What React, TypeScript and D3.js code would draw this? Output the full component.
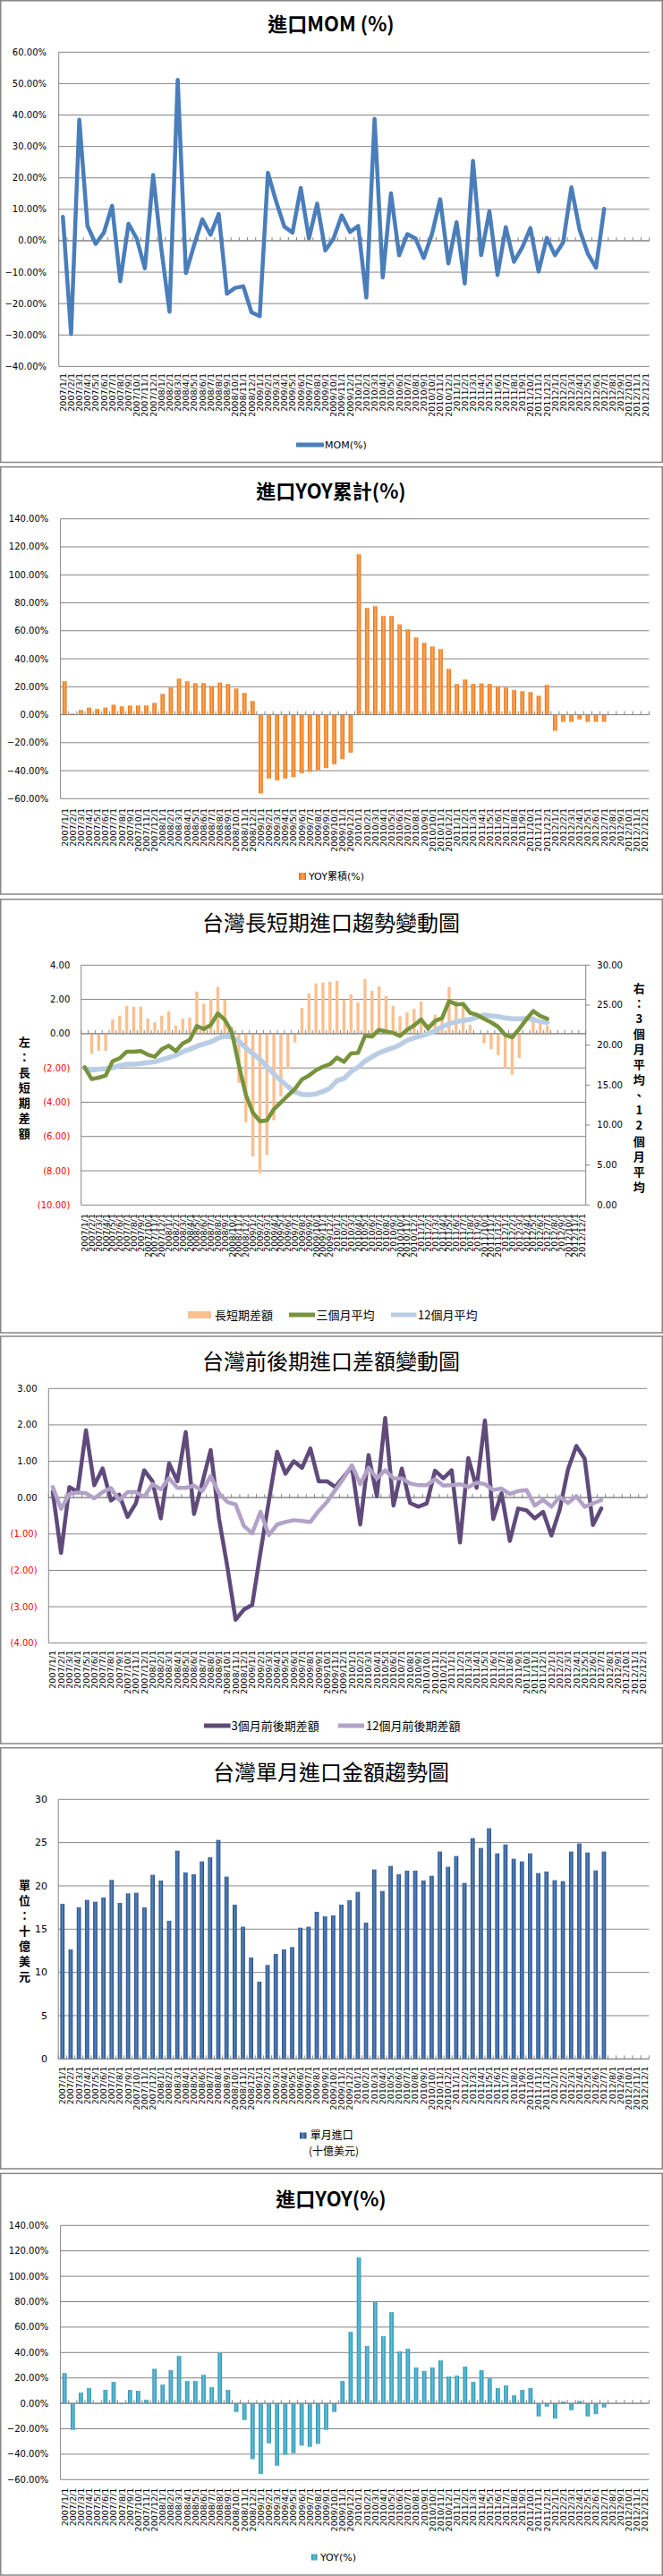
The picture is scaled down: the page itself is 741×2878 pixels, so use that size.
import React from "react";
import * as d3 from "d3";

const W = 741;
const H = 2878;

const years = ["2007", "2008", "2009", "2010", "2011", "2012"];
const monthNums = ["1", "2", "3", "4", "5", "6", "7", "8", "9", "10", "11", "12"];
const categories: string[] = years.flatMap((y) => monthNums.map((m) => `${y}/${m}/1`));

// 進口MOM (%)
const momPct = [
  7.6, -29.7, 38.5, 4.7, -1.0, 2.6, 11.1, -12.9, 5.4, 0.7,
  -8.8, 20.9, -2.5, -22.6, 51.2, -10.3, -1.4, 6.8, 1.9, 8.5,
  -16.9, -15.0, -14.5, -22.8, -24.0, 21.6, 12.5, 4.5, 2.6, 16.8,
  0.7, 11.8, -3.1, 0.7, 8.1, 2.8, 4.7, -18.1, 38.8, -11.7,
  15.1, -4.6, 2.1, 0.7, -5.5, 2.1, 13.2, -7.2, 5.9, -13.6,
  25.4, -4.6, 9.4, -10.9, 4.3, -6.7, -2.2, 4.0, -9.8, 0.9,
  -4.6, -0.5, 17.0, 3.5, -4.1, -8.6, 10.2,
];

// 進口YOY累計(%)
const yoyCumPct = [
  23.9, 0.9, 3.4, 5.1, 4.1, 5.1, 7.2, 6.0, 6.6, 6.6,
  6.6, 8.5, 14.9, 19.4, 25.8, 23.9, 22.6, 22.6, 20.5, 23.0,
  22.0, 18.8, 15.6, 9.8, -56.3, -45.6, -46.9, -45.6, -44.6, -41.8,
  -40.9, -39.7, -38.2, -35.4, -31.8, -27.1, 114.7, 76.3, 77.6, 70.6,
  70.6, 64.6, 61.0, 55.2, 51.4, 48.8, 46.9, 32.8, 22.0, 25.2,
  22.0, 22.4, 22.0, 20.3, 19.4, 17.7, 16.8, 16.2, 13.6, 21.3,
  -11.5, -5.1, -5.1, -3.4, -5.1, -5.1, -5.1,
];

// 長短期差額 (left axis)
const longShortDiff = [
  0.05, -1.17, -1.0, -1.0, 0.84, 1.05, 1.62, 1.57, 1.57, 0.89,
  0.66, 1.05, 1.31, 0.47, 0.87, 0.94, 2.46, 1.75, 2.04, 2.73,
  1.97, 0.4, -2.87, -5.17, -7.17, -8.15, -7.08, -5.05, -3.66, -2.05,
  -0.52, 1.51, 2.35, 2.93, 2.97, 3.04, 3.09, 1.97, 2.29, 1.82,
  3.19, 2.5, 2.76, 2.2, 1.62, 1.01, 1.24, 1.45, 1.88, 0.58,
  1.1, 0.84, 2.72, 1.92, 1.8, 0.52, 0.05, -0.56, -0.91, -1.26,
  -2.04, -2.39, -1.43, -0.07, 1.01, 0.58, 0.49,
];

// 三個月平均 (right axis)
const avg3 = [
  17.24, 15.75, 15.93, 16.2, 17.99, 18.36, 19.18, 19.18, 19.25, 18.8,
  18.54, 19.47, 19.92, 19.25, 20.22, 20.66, 22.38, 22.0, 22.53, 23.96,
  23.17, 21.6, 17.5, 13.77, 11.53, 10.48, 10.59, 11.98, 12.83, 13.69,
  14.51, 15.71, 16.19, 16.85, 17.3, 17.61, 18.43, 17.91, 18.96, 19.03,
  21.15, 21.08, 21.9, 21.71, 21.53, 21.15, 21.9, 22.46, 23.2, 22.08,
  23.02, 23.39, 25.52, 25.07, 25.15, 24.03, 23.77, 23.28, 22.84, 22.28,
  21.27, 20.97, 22.02, 23.2, 24.25, 23.65, 23.31,
];

// 12個月平均 (right axis)
const avg12 = [
  17.13, 16.87, 16.98, 17.06, 17.17, 17.43, 17.62, 17.62, 17.69, 17.8,
  17.91, 18.17, 18.43, 18.73, 19.18, 19.47, 19.85, 20.15, 20.41, 20.86,
  21.11, 21.0, 20.48, 19.66, 18.92, 18.25, 17.31, 16.38, 15.56, 14.81,
  14.14, 13.84, 13.77, 13.9, 14.2, 14.62, 15.56, 15.82, 16.68, 17.24,
  17.98, 18.54, 19.03, 19.36, 19.66, 20.04, 20.6, 20.9, 21.16, 21.42,
  21.79, 22.28, 22.65, 22.91, 23.1, 23.2, 23.5, 23.77, 23.65, 23.58,
  23.39, 23.28, 23.28, 23.32, 23.2, 22.95, 22.84,
];

// 3個月前後期差額
const chg3 = [
  0.16, -1.52, 0.29, 0.16, 1.85, 0.34, 0.8, -0.08, 0.08, -0.53,
  -0.16, 0.75, 0.45, -0.57, 0.94, 0.45, 1.8, -0.45, 0.41, 1.31,
  -0.57, -1.89, -3.36, -3.08, -2.95, -1.5, -0.1, 1.26, 0.66, 1.0,
  0.82, 1.35, 0.45, 0.45, 0.29, 0.57, 0.84, -0.74, 1.17, 0.04,
  2.19, -0.22, 0.8, -0.15, -0.25, -0.16, 0.74, 0.53, 0.75, -1.23,
  1.09, 0.27, 2.12, -0.59, 0.12, -1.19, -0.3, -0.35, -0.57, -0.39,
  -1.04, -0.33, 0.78, 1.42, 1.07, -0.75, -0.3,
];

// 12個月前後期差額
const chg12 = [
  0.29, -0.31, 0.1, 0.14, 0.12, -0.02, 0.15, 0.26, -0.07, 0.15,
  0.15, 0.02, 0.37, 0.23, 0.53, 0.27, 0.27, 0.33, 0.18, 0.59,
  0.12, -0.12, -0.19, -0.78, -0.98, -0.39, -1.03, -0.74, -0.67, -0.62,
  -0.64, -0.67, -0.37, -0.12, 0.21, 0.53, 0.89, 0.37, 0.82, 0.53,
  0.75, 0.53, 0.53, 0.39, 0.34, 0.34, 0.51, 0.33, 0.34, 0.37,
  0.29, 0.41, 0.37, 0.21, 0.25, 0.1, 0.18, 0.21, -0.22, -0.06,
  -0.25, 0.02, -0.15, 0.04, -0.25, -0.16, -0.07,
];

// 單月進口 (十億美元)
const monthlyImports = [
  17.93, 12.66, 17.52, 18.38, 18.17, 18.66, 20.69, 18.03, 19.14, 19.21,
  17.52, 21.28, 20.62, 15.97, 24.07, 21.55, 21.34, 22.83, 23.31, 25.31,
  21.07, 17.83, 15.28, 11.72, 8.93, 10.86, 12.14, 12.66, 12.93, 15.17,
  15.28, 17.0, 16.48, 16.59, 17.83, 18.34, 19.31, 15.76, 21.9, 19.41,
  22.31, 21.34, 21.76, 21.76, 20.62, 21.17, 23.97, 22.21, 23.45, 20.34,
  25.52, 24.38, 26.66, 23.76, 24.79, 23.14, 22.83, 23.76, 21.48, 21.66,
  20.66, 20.55, 23.97, 24.9, 23.86, 21.79, 23.97,
];

// 進口YOY(%)
const yoyPct = [
  23.9, -20.9, 8.5, 12.0, -0.7, 10.6, 16.9, -0.7, 10.6, 9.9,
  2.8, 27.2, 14.8, 26.1, 37.3, 17.6, 17.6, 22.5, 12.7, 39.7,
  10.6, -6.8, -13.1, -43.9, -55.6, -31.5, -49.1, -40.4, -39.2, -33.3,
  -34.3, -31.9, -20.9, -6.8, 17.6, 56.3, 114.8, 45.1, 79.6, 52.8,
  71.8, 40.8, 43.0, 28.2, 25.4, 28.2, 33.8, 21.1, 21.8, 28.9,
  16.9, 26.1, 19.7, 12.0, 14.1, 6.3, 10.6, 12.0, -10.3, -2.6,
  -12.0, 1.4, -5.4, 1.9, -10.3, -8.5, -3.3,
];

const pctTicks = [-60, -40, -20, 0, 20, 40, 60, 80, 100, 120, 140];
const momTicks = [-40, -30, -20, -10, 0, 10, 20, 30, 40, 50, 60];
const leftDiffTicks = [-10, -8, -6, -4, -2, 0, 2, 4];
const rightAvgTicks = [0, 5, 10, 15, 20, 25, 30];
const chgTicks = [-4, -3, -2, -1, 0, 1, 2, 3];
const importTicks = [0, 5, 10, 15, 20, 25, 30];

const AX = "'DejaVu Sans', Verdana, sans-serif";
const CJK = "'Noto Sans CJK TC', 'Noto Sans CJK SC', sans-serif";
const MIX = "'DejaVu Sans', 'Noto Sans CJK TC', sans-serif";
const GRID = "#868686";

const f2 = d3.format(".2f");
const pct = (v: number) => f2(v) + "%";
const paren = (v: number) => (v < 0 ? `(${f2(-v)})` : f2(v));

function band(x0: number, x1: number) {
  return d3.scaleBand<string>().domain(categories).range([x0, x1]).paddingInner(0).paddingOuter(0);
}

function Frame({ top, bottom }: { top: number; bottom: number }) {
  return <rect x={0.75} y={top} width={739.5} height={bottom - top} fill="#fff" stroke={GRID} strokeWidth={1.5} />;
}

function Title({ y, text, bold, size }: { y: number; text: string; bold?: boolean; size: number }) {
  return (
    <text x={370} y={y} textAnchor="middle" dominantBaseline="central" fontFamily={CJK} fontWeight={bold ? 700 : 400} fontSize={size} fill="#000">
      {text}
    </text>
  );
}

function Grid({ x0, x1, ticks, y }: { x0: number; x1: number; ticks: number[]; y: (v: number) => number }) {
  return (
    <g>
      {ticks.map((t) => (
        <line key={t} x1={x0} x2={x1} y1={y(t)} y2={y(t)} stroke={GRID} strokeWidth={1} />
      ))}
    </g>
  );
}

function YLabels({ x, ticks, y, fmt, anchor, red, size }: { x: number; ticks: number[]; y: (v: number) => number; fmt: (v: number) => string; anchor: string; red?: boolean; size?: number }) {
  return (
    <g>
      {ticks.map((t) => (
        <text key={t} x={x} y={y(t)} dy="0.35em" textAnchor={anchor as any} fontFamily={AX} fontSize={size || 10} fill={red && t < 0 ? "#FF0000" : "#000"}>
          {fmt(t)}
        </text>
      ))}
    </g>
  );
}

function CatTicks({ b, yAxis }: { b: d3.ScaleBand<string>; yAxis: number }) {
  const xs = categories.map((c) => b(c) as number).concat([b.range()[1]]);
  return (
    <g>
      <line x1={b.range()[0]} x2={b.range()[1]} y1={yAxis} y2={yAxis} stroke={GRID} strokeWidth={1} />
      {xs.map((x, k) => (
        <line key={k} x1={x} x2={x} y1={yAxis} y2={yAxis - 4} stroke={GRID} strokeWidth={1} />
      ))}
    </g>
  );
}

function XLabels({ b, top }: { b: d3.ScaleBand<string>; top: number }) {
  const bw = b.bandwidth();
  return (
    <g>
      {categories.map((c) => {
        const cx = (b(c) as number) + bw / 2;
        return (
          <text key={c} transform={`translate(${cx},${top}) rotate(-90)`} dy="0.36em" textAnchor="end" fontFamily={AX} fontSize={9.5} fill="#000">
            {c}
          </text>
        );
      })}
    </g>
  );
}

function VStack({ x, y, step, text }: { x: number; y: number; step: number; text: string }) {
  return (
    <g>
      {Array.from(text).map((ch, i) => (
        <text key={i} x={x} y={y + i * step} textAnchor="middle" dominantBaseline="central" fontFamily={CJK} fontWeight={700} fontSize={13} fill="#000">
          {ch}
        </text>
      ))}
    </g>
  );
}

function LeftAxisLine({ x, y0, y1 }: { x: number; y0: number; y1: number }) {
  return <line x1={x} x2={x} y1={y0} y2={y1} stroke={GRID} strokeWidth={1} />;
}

function Bars({ b, data, y, width, fill }: { b: d3.ScaleBand<string>; data: number[]; y: d3.ScaleLinear<number, number>; width: number; fill: string }) {
  const bw = b.bandwidth();
  const y0 = y(0);
  return (
    <g>
      {data.map((v, i) => {
        const cx = (b(categories[i]) as number) + bw / 2;
        const yv = y(v);
        return <rect key={i} x={cx - width / 2} y={Math.min(y0, yv)} width={width} height={Math.abs(yv - y0)} fill={fill} />;
      })}
    </g>
  );
}

function SeriesLine({ b, data, y, color, width }: { b: d3.ScaleBand<string>; data: number[]; y: d3.ScaleLinear<number, number>; color: string; width: number }) {
  const bw = b.bandwidth();
  const gen = d3
    .line<number>()
    .x((_, i) => (b(categories[i]) as number) + bw / 2)
    .y((d) => y(d));
  return <path d={gen(data) || ""} fill="none" stroke={color} strokeWidth={width} strokeLinejoin="round" strokeLinecap="round" />;
}

// ---------- Panel 1: 進口MOM ----------
function Panel1() {
  const b = band(65.7, 725.7);
  const y = d3.scaleLinear().domain([-40, 60]).range([409.4, 58.3]);
  return (
    <g>
      <Frame top={0.75} bottom={516.5} />
      <Title y={25} text="進口MOM (%)" bold size={22} />
      <Grid x0={65.7} x1={725.7} ticks={momTicks} y={y} />
      <LeftAxisLine x={65.7} y0={y(60)} y1={y(-40)} />
      <CatTicks b={b} yAxis={y(0)} />
      <YLabels x={52} ticks={momTicks} y={y} fmt={pct} anchor="end" />
      <SeriesLine b={b} data={momPct} y={y} color="#4A7EBB" width={4.5} />
      <XLabels b={b} top={417} />
      <line x1={331} x2={362} y1={497} y2={497} stroke="#4A7EBB" strokeWidth={5} />
      <text x={363} y={497} dy="0.35em" fontFamily={AX} fontSize={11} fill="#000">MOM(%)</text>
    </g>
  );
}

// ---------- Panel 2: 進口YOY累計 ----------
function Panel2() {
  const b = band(67.6, 725.4);
  const y = d3.scaleLinear().domain([-60, 140]).range([892.3, 579.7]);
  return (
    <g>
      <Frame top={521.7} bottom={999} />
      <Title y={547} text="進口YOY累計(%)" bold size={22} />
      <Grid x0={67.6} x1={725.4} ticks={pctTicks} y={y} />
      <LeftAxisLine x={67.6} y0={y(140)} y1={y(-60)} />
      <Bars b={b} data={yoyCumPct} y={y} width={4.7} fill="url(#gOrange)" />
      <CatTicks b={b} yAxis={y(0)} />
      <YLabels x={54.3} ticks={pctTicks} y={y} fmt={pct} anchor="end" />
      <XLabels b={b} top={903} />
      <rect x={334} y={975} width={8} height={8} fill="url(#gOrange)" />
      <text x={345} y={979} dy="0.35em" fontFamily={MIX} fontSize={11} fill="#000">YOY累積(%)</text>
    </g>
  );
}

// ---------- Panel 3: 台灣長短期進口趨勢變動圖 ----------
function Panel3() {
  const b = band(90.7, 654.7);
  const yL = d3.scaleLinear().domain([-10, 4]).range([1346.3, 1078.3]);
  const yR = d3.scaleLinear().domain([0, 30]).range([1346.3, 1078.3]);
  return (
    <g>
      <Frame top={1004.7} bottom={1489} />
      <Title y={1029} text="台灣長短期進口趨勢變動圖" size={24} />
      <Grid x0={90.7} x1={654.7} ticks={leftDiffTicks} y={yL} />
      <LeftAxisLine x={90.7} y0={yL(4)} y1={yL(-10)} />
      <LeftAxisLine x={654.7} y0={yL(4)} y1={yL(-10)} />
      {rightAvgTicks.map((t) => (
        <line key={t} x1={654.7} x2={659.5} y1={yR(t)} y2={yR(t)} stroke={GRID} strokeWidth={1} />
      ))}
      <Bars b={b} data={longShortDiff} y={yL} width={3.4} fill="#FAC090" />
      <CatTicks b={b} yAxis={yL(0)} />
      <SeriesLine b={b} data={avg12} y={yR} color="#B9CDE5" width={5.5} />
      <SeriesLine b={b} data={avg3} y={yR} color="#77933C" width={4.5} />
      <YLabels x={78.3} ticks={leftDiffTicks} y={yL} fmt={paren} anchor="end" red />
      <YLabels x={667.3} ticks={rightAvgTicks} y={yR} fmt={f2} anchor="start" />
      <VStack x={27.3} y={1163} step={17.1} text="左：長短期差額" />
      <VStack x={714.3} y={1103} step={17.1} text="右：3個月平均、12個月平均" />
      <XLabels b={b} top={1356} />
      <rect x={210} y={1465} width={26} height={8} fill="#FAC090" />
      <text x={240} y={1469} dy="0.35em" fontFamily={CJK} fontSize={13} fill="#000">長短期差額</text>
      <line x1={323} x2={352} y1={1469} y2={1469} stroke="#77933C" strokeWidth={5} />
      <text x={353.5} y={1469} dy="0.35em" fontFamily={CJK} fontSize={13} fill="#000">三個月平均</text>
      <line x1={437} x2={465.5} y1={1469} y2={1469} stroke="#B9CDE5" strokeWidth={5} />
      <text x={467} y={1469} dy="0.35em" fontFamily={CJK} fontSize={13} fill="#000">12個月平均</text>
    </g>
  );
}

// ---------- Panel 4: 台灣前後期進口差額變動圖 ----------
function Panel4() {
  const b = band(54.3, 723.1);
  const y = d3.scaleLinear().domain([-4, 3]).range([1835.7, 1551.3]);
  return (
    <g>
      <Frame top={1493} bottom={1948} />
      <Title y={1519} text="台灣前後期進口差額變動圖" size={24} />
      <Grid x0={54.3} x1={723.1} ticks={chgTicks} y={y} />
      <LeftAxisLine x={54.3} y0={y(3)} y1={y(-4)} />
      <CatTicks b={b} yAxis={y(0)} />
      <SeriesLine b={b} data={chg3} y={y} color="#604A7B" width={4.5} />
      <SeriesLine b={b} data={chg12} y={y} color="#B3A2C7" width={4.5} />
      <YLabels x={41.6} ticks={chgTicks} y={y} fmt={paren} anchor="end" red />
      <XLabels b={b} top={1844} />
      <line x1={228} x2={257.6} y1={1928} y2={1928} stroke="#604A7B" strokeWidth={5} />
      <text x={258.5} y={1928} dy="0.35em" fontFamily={CJK} fontSize={13} fill="#000">3個月前後期差額</text>
      <line x1={378} x2={407} y1={1928} y2={1928} stroke="#B3A2C7" strokeWidth={5} />
      <text x={409} y={1928} dy="0.35em" fontFamily={CJK} fontSize={13} fill="#000">12個月前後期差額</text>
    </g>
  );
}

// ---------- Panel 5: 台灣單月進口金額趨勢圖 ----------
function Panel5() {
  const b = band(65.2, 725.4);
  const y = d3.scaleLinear().domain([0, 30]).range([2300.3, 2010.3]);
  return (
    <g>
      <Frame top={1952.7} bottom={2423} />
      <Title y={1978.7} text="台灣單月進口金額趨勢圖" size={24} />
      <Grid x0={65.2} x1={725.4} ticks={importTicks} y={y} />
      <LeftAxisLine x={65.2} y0={y(30)} y1={y(0)} />
      <Bars b={b} data={monthlyImports} y={y} width={4.7} fill="url(#gBlue)" />
      <CatTicks b={b} yAxis={y(0)} />
      <YLabels x={52.9} ticks={importTicks} y={y} fmt={(v) => String(v)} anchor="end" size={11} />
      <VStack x={27.4} y={2105.3} step={17.1} text="單位：十億美元" />
      <XLabels b={b} top={2308.7} />
      <rect x={335} y={2382.5} width={7.5} height={7} fill="url(#gBlue)" />
      <text x={346.7} y={2386} dy="0.35em" fontFamily={CJK} fontSize={12} fill="#000">單月進口</text>
      <text x={345} y={2403.3} dy="0.35em" fontFamily={CJK} fontSize={12} fill="#000">(十億美元)</text>
    </g>
  );
}

// ---------- Panel 6: 進口YOY ----------
function Panel6() {
  const b = band(67.6, 725.4);
  const y = d3.scaleLinear().domain([-60, 140]).range([2770.3, 2486.3]);
  return (
    <g>
      <Frame top={2428.3} bottom={2877} />
      <Title y={2454.7} text="進口YOY(%)" bold size={22} />
      <Grid x0={67.6} x1={725.4} ticks={pctTicks} y={y} />
      <LeftAxisLine x={67.6} y0={y(140)} y1={y(-60)} />
      <Bars b={b} data={yoyPct} y={y} width={4.7} fill="url(#gTeal)" />
      <CatTicks b={b} yAxis={y(0)} />
      <YLabels x={54.3} ticks={pctTicks} y={y} fmt={pct} anchor="end" />
      <XLabels b={b} top={2779.7} />
      <rect x={348} y={2853.5} width={6.5} height={7} fill="url(#gTeal)" />
      <text x={358} y={2857} dy="0.35em" fontFamily={AX} fontSize={11} fill="#000">YOY(%)</text>
    </g>
  );
}

export default function App() {
  return (
    <svg
      width={W}
      height={H}
      viewBox={`0 0 ${W} ${H}`}
      style={{ position: "absolute", left: 0, top: 0, background: "#fff" }}
      xmlns="http://www.w3.org/2000/svg"
    >
      <defs>
        <linearGradient id="gOrange" x1="0" x2="1" y1="0" y2="0">
          <stop offset="0" stopColor="#E46C0A" />
          <stop offset="0.5" stopColor="#FFA858" />
          <stop offset="1" stopColor="#E46C0A" />
        </linearGradient>
        <linearGradient id="gBlue" x1="0" x2="1" y1="0" y2="0">
          <stop offset="0" stopColor="#23477A" />
          <stop offset="0.45" stopColor="#5586C4" />
          <stop offset="1" stopColor="#23477A" />
        </linearGradient>
        <linearGradient id="gTeal" x1="0" x2="1" y1="0" y2="0">
          <stop offset="0" stopColor="#2A8AA6" />
          <stop offset="0.5" stopColor="#5FC3DE" />
          <stop offset="1" stopColor="#2A8AA6" />
        </linearGradient>
      </defs>
      <rect x={0} y={0} width={W} height={H} fill="#fff" />
      <Panel1 />
      <Panel2 />
      <Panel3 />
      <Panel4 />
      <Panel5 />
      <Panel6 />
    </svg>
  );
}
